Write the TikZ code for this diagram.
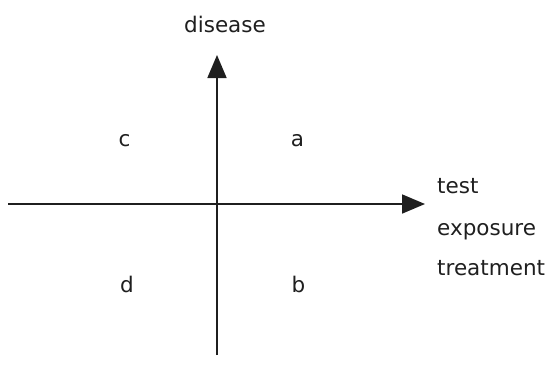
\documentclass[tikz,border=0pt]{standalone}
\usepackage{fontspec}
\setmainfont{DejaVu Sans}
\usetikzlibrary{arrows.meta}
\tikzset{
  axis/.style={line width=1.8pt, color=black!88, -{Triangle[length=23pt,width=19pt]}},
  lbl/.style={anchor=base, inner sep=0pt, font=\fontsize{21.5}{24}\selectfont, text=black!88},
  axislbl/.style={lbl, anchor=base west}
}
\begin{document}
\begin{tikzpicture}[x=1pt,y=-1pt]
  \useasboundingbox (0,0) rectangle (551,365);
  % axes
  \coordinate (west) at (8,204);
  \coordinate (east) at (425,204);
  \coordinate (south) at (217,355);
  \coordinate (north) at (217,55);
  \draw[axis] (west) -- (east);
  \draw[axis] (south) -- (north);
  \node[lbl] (disease) at (225,32) {disease};
  % quadrants
  \node[lbl] (qc) at (124.5,146) {c};
  \node[lbl] (qa) at (297.5,146) {a};
  \node[lbl] (qd) at (127,292) {d};
  \node[lbl] (qb) at (298.5,292) {b};
  \node[axislbl] (test) at (437,193) {test};
  \node[axislbl] (exposure) at (437,235) {exposure};
  \node[axislbl] (treatment) at (437,275) {treatment};
\end{tikzpicture}
\end{document}
